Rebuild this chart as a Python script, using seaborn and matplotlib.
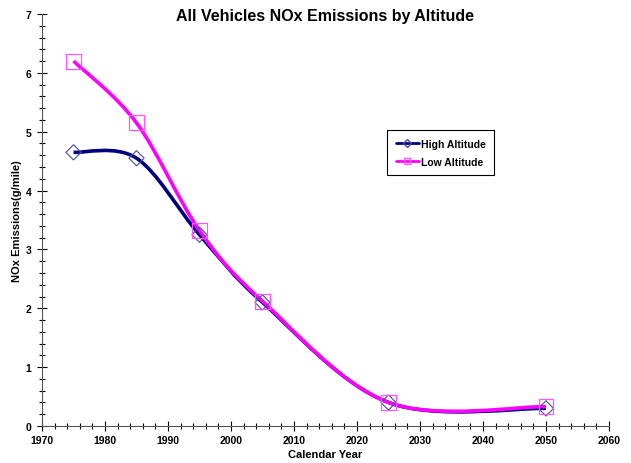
import matplotlib
matplotlib.use("Agg")
import matplotlib.pyplot as plt
from matplotlib.path import Path
from matplotlib.patches import PathPatch
from matplotlib.lines import Line2D
from matplotlib.ticker import MultipleLocator
import seaborn as sns
import numpy as np
import pandas as pd

# Data
years = [1975, 1985, 1995, 2005, 2025, 2050]
high_altitude = [4.65, 4.55, 3.25, 2.10, 0.40, 0.30]
low_altitude = [6.20, 5.15, 3.32, 2.12, 0.40, 0.33]

high_color = '#000080'
low_color = '#FF00FF'

sns.set_style('white')
plt.rcParams['font.family'] = ['Liberation Sans', 'DejaVu Sans']
plt.rcParams['text.color'] = 'black'
plt.rcParams['axes.labelcolor'] = 'black'
plt.rcParams['xtick.color'] = 'black'
plt.rcParams['ytick.color'] = 'black'


def smooth_path(x, y):
    # Excel-style smoothed line: Catmull-Rom segments as cubic Bezier curves
    pts = np.column_stack([x, y]).astype(float)
    n = len(pts)
    verts = [pts[0]]
    codes = [Path.MOVETO]
    for i in range(n - 1):
        p0 = pts[i - 1] if i > 0 else pts[i]
        p1 = pts[i]
        p2 = pts[i + 1]
        p3 = pts[i + 2] if i + 2 < n else pts[i + 1]
        c1 = p1 + (p2 - p0) / 6.0
        c2 = p2 - (p3 - p1) / 6.0
        verts += [c1, c2, p2]
        codes += [Path.CURVE4] * 3
    return Path(verts, codes)


fig = plt.figure(figsize=(6.31, 4.64), dpi=100)
ax = fig.add_axes([0.0666, 0.0797, 0.8985, 0.888])

ax.add_patch(PathPatch(smooth_path(years, high_altitude), fill=False,
                       edgecolor=high_color, linewidth=2.6, zorder=2))
ax.add_patch(PathPatch(smooth_path(years, low_altitude), fill=False,
                       edgecolor=low_color, linewidth=2.6, zorder=3))

df = pd.DataFrame({'year': years, 'high': high_altitude, 'low': low_altitude})
sns.scatterplot(data=df, x='year', y='high', marker='D', s=60,
                facecolor='none', edgecolor='#4a4aa0', linewidth=0.8,
                ax=ax, zorder=4)
sns.scatterplot(data=df, x='year', y='low', marker='s', s=115,
                facecolor='none', edgecolor='#ff55ff', linewidth=0.9,
                ax=ax, zorder=5)

ax.set_xlim(1970, 2060)
ax.set_ylim(0, 7)
ax.xaxis.set_major_locator(MultipleLocator(10))
ax.xaxis.set_minor_locator(MultipleLocator(2))
ax.yaxis.set_major_locator(MultipleLocator(1))
ax.yaxis.set_minor_locator(MultipleLocator(0.2))
ax.tick_params(which='both', direction='inout', colors='black',
               left=True, bottom=True, width=0.8)
ax.tick_params(which='major', length=7, labelsize=7.5)
ax.tick_params(axis='x', which='major', pad=3)
ax.tick_params(axis='y', which='major', pad=4)
ax.tick_params(which='minor', length=5)
for lbl in ax.get_xticklabels() + ax.get_yticklabels():
    lbl.set_fontweight('bold')

ax.spines['top'].set_visible(False)
ax.spines['right'].set_visible(False)
ax.spines['left'].set_color('#555555')
ax.spines['bottom'].set_color('#555555')

ax.set_xlabel('Calendar Year', fontsize=8, fontweight='bold', labelpad=3)
ax.set_ylabel('NOx Emissions(g/mile)', fontsize=8, fontweight='bold', labelpad=3)
fig.text(0.515, 0.965, 'All Vehicles NOx Emissions by Altitude',
         ha='center', va='center', fontsize=11.5, fontweight='bold')

handles = [
    Line2D([0], [0], color=high_color, linewidth=2, marker='D', markersize=4,
           markerfacecolor='none', markeredgecolor='#4a4aa0'),
    Line2D([0], [0], color=low_color, linewidth=2, marker='s', markersize=4,
           markerfacecolor='none', markeredgecolor='#ff55ff'),
]
leg = ax.legend(handles, ['High Altitude', 'Low Altitude'],
                loc='upper left', bbox_to_anchor=(0.6, 0.73),
                prop={'weight': 'bold', 'size': 7.5}, fancybox=False,
                edgecolor='black', framealpha=1, handlelength=2.2,
                handletextpad=0.2, borderpad=0.8, labelspacing=0.8)
leg.get_frame().set_linewidth(0.8)

fig.savefig('out.png', dpi=100, facecolor='white')
